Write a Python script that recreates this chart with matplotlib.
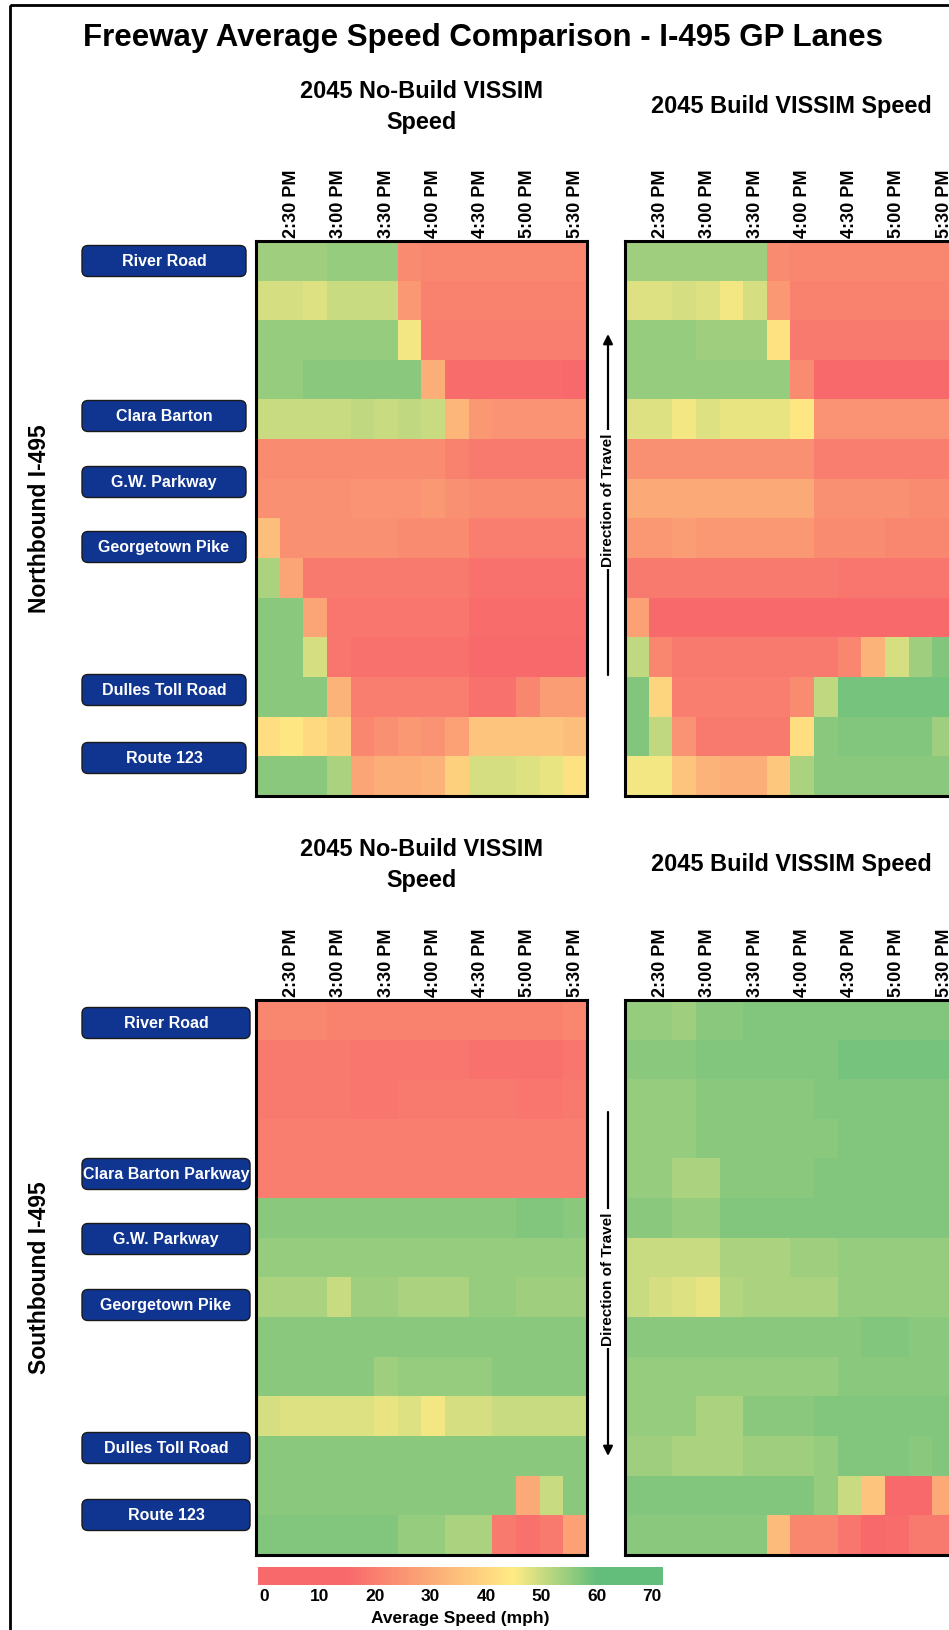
import numpy as np
import matplotlib
matplotlib.use('Agg')
import matplotlib.pyplot as plt
from matplotlib.colors import LinearSegmentedColormap, Normalize
from matplotlib.patches import FancyBboxPatch, Rectangle, FancyArrowPatch
from matplotlib.cm import ScalarMappable
from matplotlib import font_manager

# ---------------- data ----------------
title = "Freeway Average Speed Comparison - I-495 GP Lanes"
nobuild_title = "2045 No-Build VISSIM\nSpeed"
build_title = "2045 Build VISSIM Speed"
times = ['2:15 PM', '2:30 PM', '2:45 PM', '3:00 PM', '3:15 PM', '3:30 PM', '3:45 PM',
         '4:00 PM', '4:15 PM', '4:30 PM', '4:45 PM', '5:00 PM', '5:15 PM', '5:30 PM']
nb_labels = ['River Road', 'Clara Barton', 'G.W. Parkway', 'Georgetown Pike',
             'Dulles Toll Road', 'Route 123']
sb_labels = ['River Road', 'Clara Barton Parkway', 'G.W. Parkway', 'Georgetown Pike',
             'Dulles Toll Road', 'Route 123']
cbar_ticks = [0, 10, 20, 30, 40, 50, 60, 70]

nb_nobuild = [
    [54, 54, 54, 55, 55, 55, 23, 22, 22, 22, 22, 22, 22, 22],
    [49, 49, 48, 50, 50, 50, 26, 21, 21, 21, 21, 21, 21, 21],
    [55, 55, 55, 55, 55, 55, 46, 20, 20, 20, 20, 20, 20, 20],
    [55, 55, 56, 56, 56, 56, 56, 31, 16, 16, 16, 16, 16, 15],
    [50, 50, 50, 50, 51, 50, 51, 50, 33, 26, 25, 25, 25, 25],
    [23, 23, 23, 23, 23, 23, 23, 23, 21, 19, 19, 19, 19, 19],
    [24, 24, 24, 24, 25, 25, 25, 26, 24, 23, 23, 23, 23, 23],
    [35, 24, 24, 24, 24, 24, 23, 23, 23, 20, 20, 20, 20, 20],
    [53, 29, 19, 19, 19, 19, 19, 19, 19, 17, 17, 17, 17, 17],
    [56, 56, 29, 18, 18, 18, 18, 18, 18, 16, 16, 16, 16, 16],
    [56, 56, 49, 18, 17, 17, 17, 17, 17, 15, 15, 15, 15, 15],
    [56, 56, 56, 32, 20, 20, 20, 20, 20, 17, 17, 22, 27, 27],
    [42, 44, 41, 38, 22, 24, 26, 25, 28, 36, 36, 36, 36, 35],
    [56, 56, 56, 53, 29, 31, 31, 32, 39, 49, 49, 48, 47, 43],
]
nb_build = [
    [54, 54, 54, 54, 54, 54, 23, 22, 22, 22, 22, 22, 22, 22],
    [48, 48, 49, 48, 46, 49, 26, 21, 21, 21, 21, 21, 21, 21],
    [55, 55, 55, 54, 54, 54, 43, 19, 19, 19, 19, 19, 19, 19],
    [55, 55, 55, 55, 55, 55, 55, 23, 15, 15, 15, 15, 15, 15],
    [48, 48, 46, 48, 47, 47, 47, 44, 25, 25, 25, 25, 25, 25],
    [24, 24, 24, 24, 24, 24, 24, 24, 20, 20, 20, 20, 20, 20],
    [30, 30, 30, 30, 30, 30, 30, 30, 24, 24, 24, 24, 23, 23],
    [26, 26, 27, 26, 26, 26, 26, 26, 23, 23, 23, 22, 22, 22],
    [19, 19, 19, 19, 19, 19, 19, 19, 19, 18, 18, 18, 18, 18],
    [28, 15, 15, 15, 15, 15, 15, 15, 15, 13, 13, 13, 13, 13],
    [51, 22, 19, 19, 19, 19, 19, 19, 19, 22, 32, 49, 54, 57],
    [57, 40, 20, 20, 20, 20, 20, 23, 51, 58, 58, 58, 58, 58],
    [57, 51, 25, 19, 19, 19, 19, 42, 56, 57, 57, 57, 57, 54],
    [46, 46, 36, 32, 31, 31, 37, 53, 56, 56, 56, 56, 56, 56],
]
sb_nobuild = [
    [22, 22, 22, 21, 21, 21, 21, 21, 21, 21, 21, 21, 21, 22],
    [19, 19, 19, 19, 18, 18, 18, 18, 18, 17, 17, 17, 17, 18],
    [19, 19, 19, 19, 18, 18, 19, 19, 19, 19, 19, 18, 18, 19],
    [20, 20, 20, 20, 20, 20, 20, 20, 20, 20, 20, 20, 20, 20],
    [20, 20, 20, 20, 20, 20, 20, 20, 20, 20, 20, 20, 20, 20],
    [56, 56, 56, 56, 56, 56, 56, 56, 56, 56, 56, 57, 57, 56],
    [55, 55, 55, 55, 55, 55, 55, 55, 55, 55, 55, 55, 55, 55],
    [53, 53, 53, 50, 54, 54, 53, 53, 53, 55, 55, 54, 54, 54],
    [56, 56, 56, 56, 56, 56, 56, 56, 56, 56, 56, 56, 56, 56],
    [56, 56, 56, 56, 56, 54, 55, 55, 55, 55, 56, 56, 56, 56],
    [49, 48, 48, 48, 48, 47, 48, 46, 49, 49, 50, 50, 50, 50],
    [56, 56, 56, 56, 56, 56, 56, 56, 56, 56, 56, 56, 56, 56],
    [56, 56, 56, 56, 56, 56, 56, 56, 56, 56, 56, 30, 50, 56],
    [57, 57, 57, 57, 57, 57, 55, 55, 53, 53, 19, 17, 19, 28],
]
sb_build = [
    [55, 55, 54, 56, 56, 57, 57, 57, 57, 57, 57, 57, 57, 57],
    [56, 56, 56, 57, 57, 57, 57, 57, 57, 58, 58, 58, 58, 58],
    [55, 55, 55, 56, 56, 56, 56, 56, 57, 57, 57, 57, 57, 57],
    [55, 55, 55, 56, 56, 56, 56, 56, 56, 57, 57, 57, 57, 57],
    [55, 55, 53, 53, 56, 56, 56, 56, 57, 57, 57, 57, 57, 57],
    [56, 56, 55, 55, 57, 57, 57, 57, 57, 57, 57, 57, 57, 57],
    [50, 50, 50, 50, 53, 53, 53, 54, 54, 55, 55, 55, 55, 55],
    [50, 49, 48, 47, 52, 53, 53, 53, 53, 55, 55, 55, 55, 55],
    [56, 56, 56, 56, 56, 56, 56, 56, 56, 56, 57, 57, 56, 56],
    [55, 55, 55, 55, 55, 55, 55, 55, 55, 56, 56, 56, 56, 56],
    [55, 55, 55, 53, 53, 56, 56, 56, 57, 57, 57, 57, 57, 57],
    [54, 54, 53, 53, 53, 54, 54, 54, 55, 57, 57, 57, 56, 57],
    [57, 57, 57, 57, 57, 57, 57, 57, 55, 50, 36, 13, 13, 30],
    [56, 56, 56, 56, 56, 56, 34, 22, 22, 18, 12, 16, 19, 19],
]

# ---------------- style ----------------
W, H = 949, 1631
fig = plt.figure(figsize=(W / 100, H / 100), dpi=100)
fig.patch.set_facecolor('white')

names = {f.name for f in font_manager.fontManager.ttflist}
BOLD = ['Liberation Sans', 'DejaVu Sans']
if 'Liberation Sans Narrow' in names:
    NARROW = ['Liberation Sans Narrow', 'Liberation Sans', 'DejaVu Sans']
    box_fs, dir_fs = 13.5, 13
else:
    NARROW = BOLD
    box_fs, dir_fs = 11.5, 11

VMIN, VMAX = -1.2, 72.0
norm = Normalize(VMIN, VMAX)
def frac(v):
    return (v - VMIN) / (VMAX - VMIN)
cmap = LinearSegmentedColormap.from_list('speed', [
    (0.0, '#F8696B'), (frac(15), '#F8696B'), (frac(45), '#FFEB84'),
    (frac(60), '#63BE7B'), (1.0, '#63BE7B')])


def rect(x0, y0, x1, y1):
    return [x0 / W, 1 - y1 / H, (x1 - x0) / W, (y1 - y0) / H]


# overlay axes in pixel coordinates
ov = fig.add_axes([0, 0, 1, 1])
ov.set_xlim(0, W)
ov.set_ylim(H, 0)
ov.axis('off')

ov.add_patch(Rectangle((10, 6), 3000, 3000, fill=False, lw=2.0, ec='black'))
ov.text(483, 38, title, ha='center', va='center', fontsize=22.5, fontweight='bold', family=BOLD)


def heat(x0, y0, data):
    ax = fig.add_axes(rect(x0, y0, x0 + 331, y0 + 555))
    ax.imshow(np.array(data, dtype=float), cmap=cmap, norm=norm, aspect='auto',
              interpolation='nearest')
    ax.set_xticks(range(1, len(times), 2))
    ax.set_xticklabels(times[1::2], rotation=90, fontsize=13, fontweight='bold', family=BOLD)
    ax.xaxis.tick_top()
    ax.tick_params(axis='x', length=0, pad=3)
    ax.set_yticks([])
    for s in ax.spines.values():
        s.set_linewidth(2.2)
        s.set_color('black')
    return ax


heat(256, 242, nb_nobuild)
heat(625, 242, nb_build)
heat(256, 1001, sb_nobuild)
heat(625, 1001, sb_build)

# panel titles
for yc in (107, 865):
    ov.text(422, yc, nobuild_title, ha='center', va='center', fontsize=16.9,
            fontweight='bold', family=BOLD, linespacing=1.45)
    ov.text(791, yc, build_title, ha='center', va='center', fontsize=16.9,
            fontweight='bold', family=BOLD)

# side labels
ov.text(40, 519, 'Northbound I-495', rotation=90, ha='center', va='center',
        fontsize=16.5, fontweight='bold', family=BOLD)
ov.text(40, 1278, 'Southbound I-495', rotation=90, ha='center', va='center',
        fontsize=16.5, fontweight='bold', family=BOLD)

# location boxes
nb_y = [262, 417, 483, 548, 691, 759]
sb_y = [1024, 1175, 1240, 1306, 1449, 1516]


def box(xl, xr, yc, txt):
    h = 31
    ov.add_patch(FancyBboxPatch((xl, yc - h / 2), xr - xl, h,
                                boxstyle='round,pad=0,rounding_size=6',
                                fc='#0F3591', ec='#1a1a1a', lw=1.0))
    ov.text((xl + xr) / 2, yc, txt, ha='center', va='center', color='white',
            fontsize=box_fs, fontweight='bold', family=NARROW)


for lab, y in zip(nb_labels, nb_y):
    box(82, 246, y, lab)
for lab, y in zip(sb_labels, sb_y):
    box(82, 250, y, lab)

# direction of travel arrows
def direction(x, y_tail, y_head, y_text):
    ov.add_patch(FancyArrowPatch((x, y_tail), (x, y_head), arrowstyle='-|>',
                                 mutation_scale=14, lw=1.6, color='black',
                                 shrinkA=0, shrinkB=0))
    ov.text(x, y_text, 'Direction of Travel', rotation=90, ha='center', va='center',
            fontsize=dir_fs, fontweight='bold', family=NARROW,
            bbox=dict(fc='white', ec='none', pad=2))


direction(608, 676, 335, 500)
direction(608, 1113, 1457, 1279)

# colorbar
cax = fig.add_axes(rect(258, 1568, 663, 1586))
cb = fig.colorbar(ScalarMappable(norm=norm, cmap=cmap), cax=cax, orientation='horizontal')
cb.outline.set_visible(False)
cb.set_ticks(cbar_ticks)
cb.set_ticklabels([str(t) for t in cbar_ticks])
cax.tick_params(length=0, pad=2)
for t in cax.get_xticklabels():
    t.set_fontweight('bold')
    t.set_fontsize(12.5)
    t.set_family(BOLD)
cb.set_label('Average Speed (mph)', fontsize=12.5, fontweight='bold', family=BOLD, labelpad=5)

fig.savefig('out.png', dpi=100)
